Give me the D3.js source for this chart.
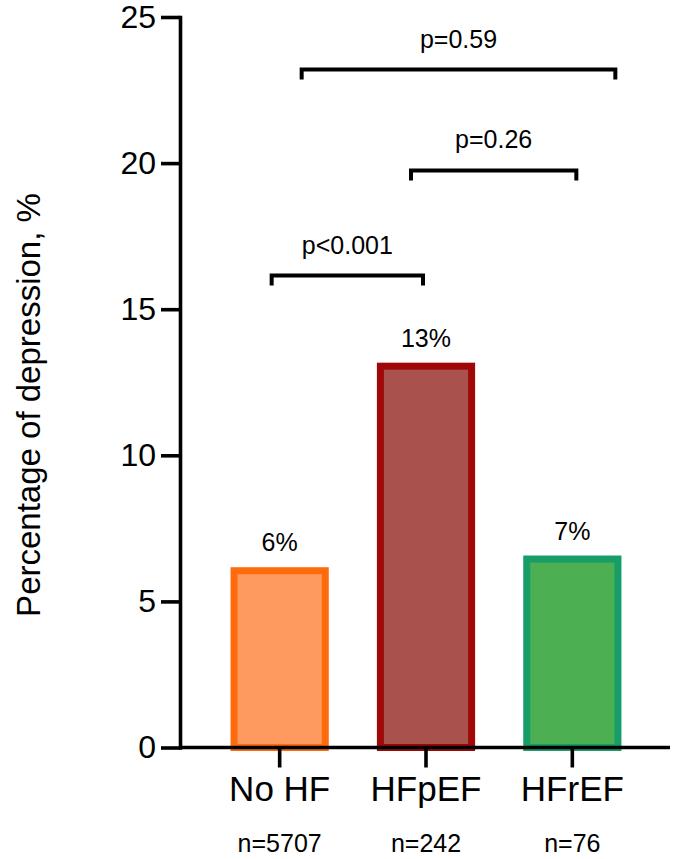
<!DOCTYPE html>
<html>
<head>
<meta charset="utf-8">
<script src="https://cdn.jsdelivr.net/npm/d3@7"></script>
<style>
  html, body { margin: 0; padding: 0; background: #ffffff; }
  svg { display: block; font-family: "Liberation Sans", Arial, Helvetica, sans-serif; }
</style>
</head>
<body>
<svg id="chart" width="676" height="859"></svg>
<script>
// ---- data ----
const categories = ["No HF", "HFpEF", "HFrEF"];
const sampleSizes = ["n=5707", "n=242", "n=76"];
const values = [6.05, 13.05, 6.45];
const valueLabels = ["6%", "13%", "7%"];
const yTicks = [0, 5, 10, 15, 20, 25];
const comparisonFrom = ["No HF", "HFpEF", "No HF"];
const comparisonTo = ["HFpEF", "HFrEF", "HFrEF"];
const comparisonLevel = [16.15, 19.75, 23.2];
const comparisonLabels = ["p<0.001", "p=0.26", "p=0.59"];
const fillColors = ["#fe9a5f", "#a9524d", "#4caf52"];
const strokeColors = ["#ff6a0d", "#a00808", "#169d68"];

// ---- layout ----
const svg = d3.select("#chart");
const axisX0 = 180, axisX1 = 670;
const y = d3.scaleLinear().domain([0, 25]).range([747.5, 17]);
const x = d3.scaleBand().domain(categories).range([206.5, 645.5])
  .paddingInner(0.3767).paddingOuter(0.18835);
const bw = 7;
// bracket end adjustments (px) relative to category centres
const bracketAdj = [[-8, -3], [-15, 4], [22, 43]];

// bars
const bars = svg.append("g");
categories.forEach((c, i) => {
  bars.append("rect")
    .attr("x", x(c))
    .attr("y", y(values[i]))
    .attr("width", x.bandwidth())
    .attr("height", y(0) - y(values[i]))
    .attr("fill", fillColors[i])
    .attr("stroke", strokeColors[i])
    .attr("stroke-width", bw);
  svg.append("text")
    .attr("x", x(c) + x.bandwidth() / 2)
    .attr("y", y(values[i]) - bw / 2 - 16)
    .attr("text-anchor", "middle")
    .attr("font-size", 25)
    .attr("fill", "#000")
    .text(valueLabels[i]);
});

// y axis
const yAxis = svg.append("g")
  .attr("transform", `translate(${axisX0},0)`)
  .call(d3.axisLeft(y).tickValues(yTicks).tickSize(19).tickSizeOuter(0).tickPadding(5));
yAxis.select(".domain").attr("stroke", "#000").attr("stroke-width", 3.6).attr("stroke-linecap", "square");
yAxis.selectAll(".tick line").attr("stroke", "#000").attr("stroke-width", 3.6);
yAxis.selectAll(".tick text").attr("font-size", 32).attr("fill", "#000")
  .attr("font-family", "Liberation Sans, Arial, sans-serif");

// x axis
const xAxis = svg.append("g")
  .attr("transform", `translate(0,${y(0)})`)
  .call(d3.axisBottom(x).tickSize(20).tickSizeOuter(0).tickPadding(9));
xAxis.select(".domain").remove();
xAxis.append("line")
  .attr("x1", axisX0).attr("x2", axisX1).attr("y1", 0).attr("y2", 0)
  .attr("stroke", "#000").attr("stroke-width", 3.6);
xAxis.selectAll(".tick line").attr("stroke", "#000").attr("stroke-width", 3.6);
xAxis.selectAll(".tick text").attr("font-size", 35).attr("fill", "#000")
  .attr("font-family", "Liberation Sans, Arial, sans-serif");

// sample sizes
categories.forEach((c, i) => {
  svg.append("text")
    .attr("x", x(c) + x.bandwidth() / 2)
    .attr("y", 852)
    .attr("text-anchor", "middle")
    .attr("font-size", 25)
    .attr("fill", "#000")
    .text(sampleSizes[i]);
});

// significance brackets
comparisonLabels.forEach((lab, i) => {
  const xa = x(comparisonFrom[i]) + x.bandwidth() / 2 + bracketAdj[i][0];
  const xb = x(comparisonTo[i]) + x.bandwidth() / 2 + bracketAdj[i][1];
  const yy = y(comparisonLevel[i]);
  svg.append("path")
    .attr("d", `M${xa},${yy + 10}V${yy}H${xb}V${yy + 10}`)
    .attr("fill", "none")
    .attr("stroke", "#000")
    .attr("stroke-width", 4);
  svg.append("text")
    .attr("x", (xa + xb) / 2)
    .attr("y", yy - 22)
    .attr("text-anchor", "middle")
    .attr("font-size", 25)
    .attr("fill", "#000")
    .text(lab);
});

// y axis title
svg.append("text")
  .attr("transform", "translate(40,405) rotate(-90)")
  .attr("text-anchor", "middle")
  .attr("font-size", 33)
  .attr("fill", "#000")
  .text("Percentage of depression, %");
</script>
</body>
</html>
